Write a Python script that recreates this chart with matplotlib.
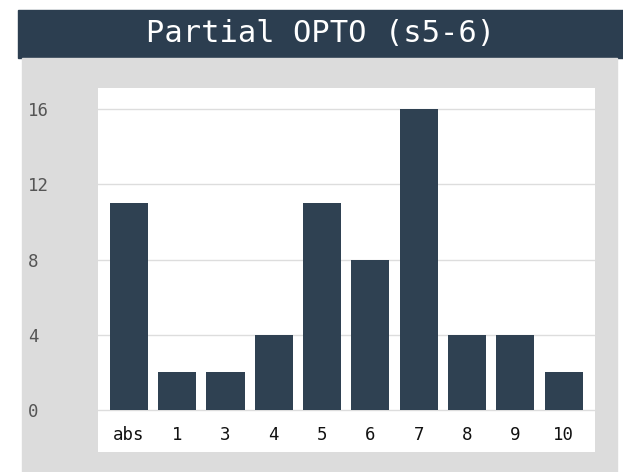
import matplotlib
matplotlib.use('Agg')
import matplotlib.pyplot as plt
from matplotlib.patches import Rectangle

# data
categories = ['abs', '1', '3', '4', '5', '6', '7', '8', '9', '10']
counts = [11, 2, 2, 4, 11, 8, 16, 4, 4, 2]
y_ticks = [0, 4, 8, 12, 16]
title = 'Partial OPTO (s5-6)'

W, H = 623, 472
fig = plt.figure(figsize=(W / 100, H / 100), dpi=100)
fig.patch.set_facecolor('white')

# title bar + grey panel (figure pixel boxes)
def px_rect(x0, y0, x1, y1, color):
    fig.patches.append(Rectangle((x0 / W, 1 - y1 / H), (x1 - x0) / W, (y1 - y0) / H,
                                 transform=fig.transFigure, color=color, zorder=0))

px_rect(18, 10, 623, 58, '#2c3e50')
px_rect(22, 58, 617, 472, '#dcdcdc')
fig.text((18 + 623) / 2 / W, 1 - 34 / H, title, color='white', fontsize=22,
         family='DejaVu Sans Mono', ha='center', va='center')

# white plotting area
ax = fig.add_axes([98 / W, 1 - 452 / H, (595 - 98) / W, (452 - 88) / H])
ax.set_zorder(2)
ax.set_facecolor('white')
for s in ax.spines.values():
    s.set_visible(False)

bar_color = '#2f4152'
x = list(range(len(categories)))
ax.bar(x, counts, width=0.79, color=bar_color, zorder=3)

ax.set_xlim(-0.64, 9.65)
ax.set_ylim(-2.23, 17.12)
ax.set_yticks(y_ticks)
ax.set_yticklabels([str(t) for t in y_ticks], family='DejaVu Sans Mono', fontsize=12.5,
                   color='#555555', ha='left')
ax.tick_params(axis='y', length=0, pad=50.4)
ax.set_xticks([])
ax.yaxis.grid(True, color='#dddddd', linewidth=1, zorder=0)

for xi, lab in zip(x, categories):
    ax.text(xi, -1.33, lab, ha='center', va='center', fontsize=12.5,
            family='DejaVu Sans Mono', color='#111111')

fig.savefig('out.png', dpi=100, facecolor=fig.get_facecolor())
